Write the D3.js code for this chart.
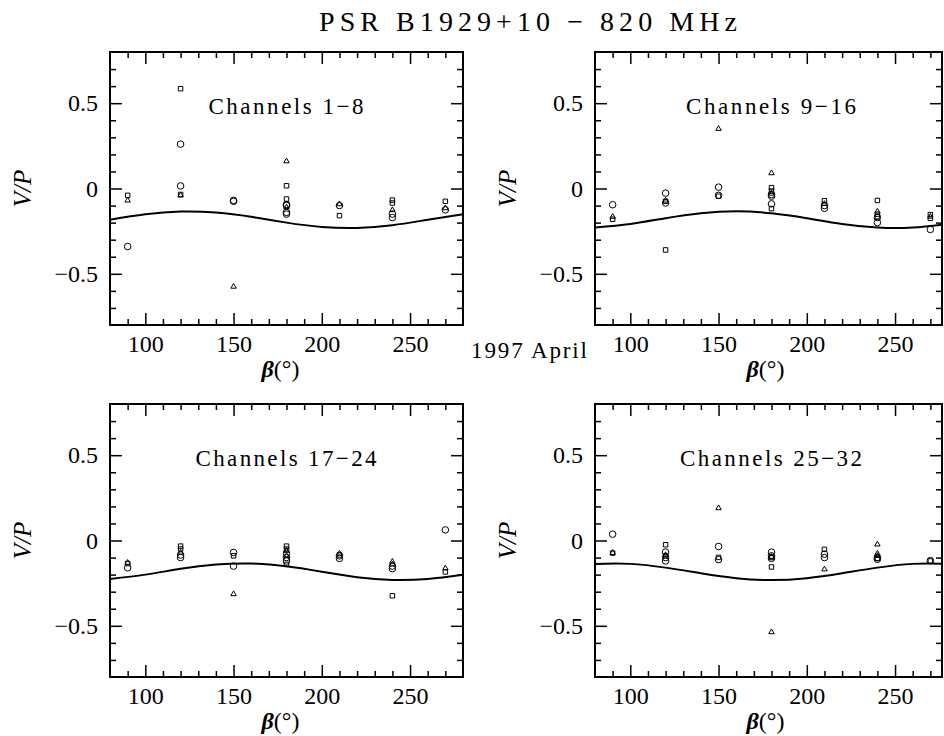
<!DOCTYPE html>
<html>
<head>
<meta charset="utf-8">
<script src="https://cdn.jsdelivr.net/npm/d3@7"></script>
<style>
  body { margin: 0; background: #fff; }
  text { font-family: "Liberation Serif", "Times New Roman", serif; fill: #000; }
</style>
</head>
<body>
<svg id="chart" width="944" height="736"></svg>
<script>
// data: [beta, V/P]
const ch1_8_circles = [[90,-0.34],[120,0.26],[120,0.015],[150,-0.07],[150,-0.075],[180,-0.094],[180,-0.1],[180,-0.14],[180,-0.15],[210,-0.1],[240,-0.15],[240,-0.17],[270,-0.125]];
const ch1_8_squares = [[90,-0.04],[120,0.585],[120,-0.035],[180,0.016],[180,-0.062],[210,-0.159],[240,-0.068],[240,-0.085],[270,-0.075]];
const ch1_8_triangles = [[90,-0.07],[120,-0.04],[150,-0.575],[180,0.16],[180,-0.11],[210,-0.092],[240,-0.126],[270,-0.115]];

const ch9_16_circles = [[90,-0.095],[120,-0.027],[120,-0.085],[150,0.008],[150,-0.04],[180,-0.035],[180,-0.045],[180,-0.09],[210,-0.1],[210,-0.116],[240,-0.17],[240,-0.2],[270,-0.24]];
const ch9_16_squares = [[90,-0.18],[120,-0.075],[120,-0.36],[150,-0.045],[180,0.005],[180,-0.015],[180,-0.118],[210,-0.072],[240,-0.07],[240,-0.15],[240,-0.165],[270,-0.153],[270,-0.175]];
const ch9_16_triangles = [[90,-0.165],[120,-0.07],[150,0.35],[180,0.09],[180,-0.03],[210,-0.09],[240,-0.135],[270,-0.165]];

const ch17_24_circles = [[90,-0.16],[120,-0.085],[120,-0.1],[150,-0.07],[150,-0.15],[180,-0.075],[180,-0.1],[180,-0.12],[210,-0.09],[210,-0.105],[240,-0.15],[240,-0.165],[270,0.062]];
const ch17_24_squares = [[90,-0.135],[120,-0.033],[120,-0.05],[150,-0.09],[180,-0.033],[180,-0.05],[180,-0.14],[210,-0.085],[240,-0.324],[270,-0.184]];
const ch17_24_triangles = [[90,-0.13],[120,-0.07],[150,-0.314],[180,-0.06],[180,-0.09],[210,-0.076],[240,-0.124],[240,-0.14],[270,-0.163]];

const ch25_32_circles = [[90,0.037],[120,-0.068],[120,-0.1],[120,-0.12],[150,-0.035],[150,-0.112],[180,-0.068],[180,-0.09],[180,-0.105],[210,-0.08],[210,-0.1],[240,-0.1],[240,-0.11],[270,-0.118]];
const ch25_32_squares = [[90,-0.074],[120,-0.025],[120,-0.09],[150,-0.099],[180,-0.1],[180,-0.155],[210,-0.052],[240,-0.105],[270,-0.12]];
const ch25_32_triangles = [[90,-0.072],[120,-0.085],[150,0.19],[180,-0.095],[180,-0.537],[210,-0.169],[240,-0.023],[240,-0.077],[240,-0.09]];

// model curve, sampled off the plot
const curveBeta = [80,100,120,140,160,180,200,220,240,260,280];
const ch1_8_curve = [-0.183,-0.151,-0.135,-0.141,-0.166,-0.200,-0.225,-0.231,-0.215,-0.183,-0.151];
const ch9_16_curve = [-0.229,-0.208,-0.174,-0.145,-0.134,-0.145,-0.174,-0.208,-0.229,-0.229,-0.208];
const ch17_24_curve = [-0.225,-0.200,-0.166,-0.141,-0.135,-0.151,-0.183,-0.215,-0.231,-0.225,-0.200];
const ch25_32_curve = [-0.137,-0.137,-0.159,-0.192,-0.221,-0.232,-0.221,-0.192,-0.159,-0.137,-0.137];

const xMajor = [100,150,200,250];
const yMajor = [-0.5,0,0.5];
const panelTitles = ["Channels 1\u22128","Channels 9\u221216","Channels 17\u221224","Channels 25\u221232"];

const svg = d3.select("#chart");

const panels = [
    { left:110, top:52, right:463, bottom:325, title:panelTitles[0], titleLen:155, circles:ch1_8_circles, squares:ch1_8_squares, triangles:ch1_8_triangles, curve:ch1_8_curve },
    { left:595, top:52, right:942, bottom:325, title:panelTitles[1], titleLen:170, circles:ch9_16_circles, squares:ch9_16_squares, triangles:ch9_16_triangles, curve:ch9_16_curve },
    { left:110, top:404, right:463, bottom:677, title:panelTitles[2], titleLen:181, circles:ch17_24_circles, squares:ch17_24_squares, triangles:ch17_24_triangles, curve:ch17_24_curve },
    { left:595, top:404, right:942, bottom:677, title:panelTitles[3], titleLen:182, circles:ch25_32_circles, squares:ch25_32_squares, triangles:ch25_32_triangles, curve:ch25_32_curve }
];

const pxPerDeg = (463 - 110) / 200;

// main title
svg.append("text")
    .attr("x", 528).attr("y", 31)
    .attr("text-anchor", "middle")
    .attr("font-size", 28)
    .attr("textLength", 418)
    .attr("lengthAdjust", "spacing")
    .text("PSR B1929+10 \u2212 820 MHz");

svg.append("text")
    .attr("x", 529).attr("y", 358)
    .attr("text-anchor", "middle")
    .attr("font-size", 23)
    .attr("textLength", 116)
    .attr("lengthAdjust", "spacing")
    .text("1997 April");

panels.forEach((p, i) => {
    const w = p.right - p.left, h = p.bottom - p.top;

    const x = d3.scaleLinear()
        .domain([80, 80 + w / pxPerDeg])
        .range([0, w]);
    const y = d3.scaleLinear()
        .domain([-0.8, 0.8])
        .range([h, 0]);

    const g = svg.append("g")
        .attr("transform", `translate(${p.left},${p.top})`);

    g.append("clipPath").attr("id", "clip" + i)
        .append("rect").attr("width", w).attr("height", h);

    const xMinor = d3.range(90, x.domain()[1], 10).filter(v => v % 50 !== 0);
    const yMinor = d3.range(-7, 8).map(v => v / 10).filter(v => Math.abs(v * 10) % 5 !== 0);

    // Step 1: axes, ticks pointing inwards on all four sides
    const axes = [
        [d3.axisBottom(x).tickValues(xMajor).tickSizeInner(-12).tickPadding(10).tickFormat(d3.format("d")), `translate(0,${h})`],
        [d3.axisBottom(x).tickValues(xMinor).tickSize(-6).tickFormat(""), `translate(0,${h})`],
        [d3.axisTop(x).tickValues(xMajor).tickSize(-12).tickFormat(""), null],
        [d3.axisTop(x).tickValues(xMinor).tickSize(-6).tickFormat(""), null],
        [d3.axisLeft(y).tickValues(yMajor).tickSizeInner(-12).tickPadding(12).tickFormat(d3.format("")), null],
        [d3.axisLeft(y).tickValues(yMinor).tickSize(-6).tickFormat(""), null],
        [d3.axisRight(y).tickValues(yMajor).tickSize(-12).tickFormat(""), `translate(${w},0)`],
        [d3.axisRight(y).tickValues(yMinor).tickSize(-6).tickFormat(""), `translate(${w},0)`]
    ];
    axes.forEach(([ax, tr]) => {
        const a = g.append("g").call(ax);
        if (tr) a.attr("transform", tr);
        a.select(".domain").remove();
        a.selectAll("line").attr("stroke", "#000").attr("stroke-width", 1.5);
        a.selectAll("text")
            .attr("font-size", 24)
            .attr("fill", "#000");
    });

    g.append("rect")
        .attr("width", w).attr("height", h)
        .attr("fill", "none")
        .attr("stroke", "#000")
        .attr("stroke-width", 2);

    // Step 2: labels
    g.append("text")
        .attr("x", 176).attr("y", 62)
        .attr("text-anchor", "middle")
        .attr("font-size", 23)
        .attr("textLength", p.titleLen)
        .attr("lengthAdjust", "spacing")
        .text(p.title);

    g.append("text")
        .attr("transform", `translate(${-79},${h / 2}) rotate(-90)`)
        .attr("text-anchor", "middle")
        .attr("font-size", 25)
        .attr("font-style", "italic")
        .text("V/P");

    g.append("text")
        .attr("x", (463 - 110) / 2 - 6).attr("y", h + 52)
        .attr("text-anchor", "middle")
        .attr("font-size", 24)
        .html('<tspan font-style="italic" font-weight="bold">\u03b2</tspan>(\u00b0)');

    // Step 3: model curve
    const line = d3.line()
        .x(d => x(d[0]))
        .y(d => y(d[1]))
        .curve(d3.curveNatural);

    g.append("path")
        .datum(curveBeta.map((b, k) => [b, p.curve[k]]))
        .attr("clip-path", `url(#clip${i})`)
        .attr("d", line)
        .attr("fill", "none")
        .attr("stroke", "#000")
        .attr("stroke-width", 2);

    // Step 4: points
    const sets = [
        [p.circles, d3.symbolCircle, 34],
        [p.squares, d3.symbolSquare, 20],
        [p.triangles, d3.symbolTriangle, 13]
    ];
    sets.forEach(([pts, type, size]) => {
        g.append("g").selectAll("path")
            .data(pts)
            .join("path")
            .attr("transform", d => `translate(${x(d[0])},${y(d[1])})`)
            .attr("d", d3.symbol().type(type).size(size))
            .attr("fill", "none")
            .attr("stroke", "#000")
            .attr("stroke-width", 1);
    });
});
</script>
</body>
</html>
